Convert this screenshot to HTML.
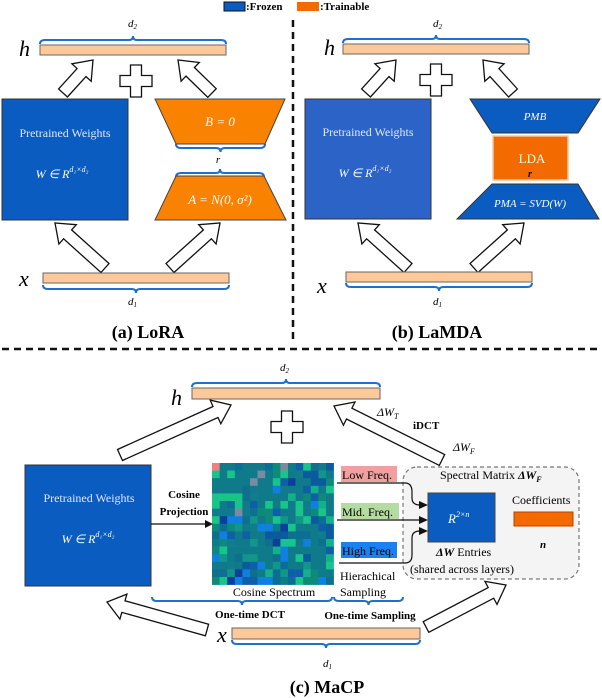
<!DOCTYPE html>
<html><head><meta charset="utf-8"><style>
html,body{margin:0;padding:0;background:#fff}
svg{display:block}
text{font-family:"Liberation Serif",serif}
.it{font-style:italic}
.b{font-weight:bold}
</style></head><body>
<svg id="s" width="602" height="698" viewBox="0 0 602 698" xmlns="http://www.w3.org/2000/svg">
<g id="grid"></g>
<g id="arr"></g>
<g id="br" fill="none" stroke="#1f6fd0" stroke-width="2"></g>
<!-- legend -->
<rect x="224" y="2" width="21" height="9" fill="#0b5cc0" stroke="#111" stroke-width="1"/>
<text x="246" y="10" font-size="11" class="b">:Frozen</text>
<rect x="297" y="2" width="22" height="9" fill="#f26a00"/>
<text x="320" y="10" font-size="11" class="b">:Trainable</text>
<!-- divider lines -->
<line x1="293" y1="20" x2="293" y2="340" stroke="#111" stroke-width="2.5" stroke-dasharray="7,5"/>
<line x1="2" y1="349" x2="600" y2="349" stroke="#111" stroke-width="2.5" stroke-dasharray="7,5"/>

<!-- LoRA -->
<text x="19" y="56" font-size="22" class="it">h</text>
<rect x="40" y="45" width="186" height="10" fill="#fdc99a" stroke="#666" stroke-width="1"/>
<text x="128" y="27" font-size="11" class="it">d<tspan font-size="7" dy="2">2</tspan></text>
<rect x="2" y="99" width="126" height="121" fill="#0b5cc0" stroke="#333" stroke-width="1"/>
<text x="65" y="137" font-size="12" fill="#dde8ff" text-anchor="middle">Pretrained Weights</text>
<text x="62" y="178" font-size="12" fill="#fff" text-anchor="middle" class="it">W ∈ R<tspan font-size="8" dy="-6">d₁×d₂</tspan></text>
<polygon points="155,99 285,99 265,144 176,144" fill="#f98200" stroke="#444" stroke-width="1"/>
<text x="220" y="126" font-size="13" fill="#fff" text-anchor="middle" class="it">B = 0</text>
<text x="218" y="163" font-size="11" text-anchor="middle" class="it">r</text>
<polygon points="176,176 264,176 286,220 155,220" fill="#f98200" stroke="#444" stroke-width="1"/>
<text x="220" y="204" font-size="13" fill="#fff" text-anchor="middle" class="it">A = N(0, σ²)</text>
<text x="19" y="286" font-size="22" class="it">x</text>
<rect x="43" y="273" width="186" height="10" fill="#fdc99a" stroke="#666" stroke-width="1"/>
<text x="128" y="305" font-size="11" class="it">d<tspan font-size="7" dy="2">1</tspan></text>
<text x="148" y="338" font-size="18" class="b" text-anchor="middle">(a) LoRA</text>

<!-- LaMDA -->
<text x="324" y="55" font-size="22" class="it">h</text>
<rect x="343" y="44" width="186" height="10" fill="#fdc99a" stroke="#666" stroke-width="1"/>
<text x="433" y="27" font-size="11" class="it">d<tspan font-size="7" dy="2">2</tspan></text>
<rect x="305" y="99" width="126" height="120" fill="#2b63c6" stroke="#333" stroke-width="1"/>
<text x="368" y="136" font-size="12" fill="#dde8ff" text-anchor="middle">Pretrained Weights</text>
<text x="365" y="177" font-size="12" fill="#fff" text-anchor="middle" class="it">W ∈ R<tspan font-size="8" dy="-6">d₁×d₂</tspan></text>
<polygon points="470,99 600,99 578,133 492,133" fill="#0b5cc0" stroke="#333" stroke-width="1"/>
<text x="535" y="120" font-size="11" fill="#fff" text-anchor="middle" class="it">PMB</text>
<rect x="493" y="136" width="75" height="44" fill="#f26a00" stroke="#f9c8a0" stroke-width="1.5"/>
<text x="532" y="163" font-size="13" fill="#ffe" text-anchor="middle">LDA</text>
<text x="530" y="177" font-size="10" class="it b" text-anchor="middle">r</text>
<polygon points="492,184 578,184 599,219 457,219" fill="#0b5cc0" stroke="#333" stroke-width="1"/>
<text x="530" y="207" font-size="11" fill="#fff" text-anchor="middle" class="it">PMA = SVD(W)</text>
<text x="317" y="293" font-size="22" class="it">x</text>
<rect x="346" y="272" width="186" height="10" fill="#fdc99a" stroke="#666" stroke-width="1"/>
<text x="433" y="305" font-size="11" class="it">d<tspan font-size="7" dy="2">1</tspan></text>
<text x="437" y="338" font-size="18" class="b" text-anchor="middle">(b) LaMDA</text>

<!-- MaCP -->
<text x="171" y="405" font-size="22" class="it">h</text>
<rect x="192" y="388" width="188" height="11" fill="#fdc99a" stroke="#666" stroke-width="1"/>
<text x="280" y="371" font-size="11" class="it">d<tspan font-size="7" dy="2">2</tspan></text>
<text x="377" y="416" font-size="12" class="it">ΔW<tspan font-size="8" dy="3">T</tspan></text>
<text x="413" y="429" font-size="11" class="b">iDCT</text>
<text x="453" y="451" font-size="12" class="it">ΔW<tspan font-size="8" dy="3">F</tspan></text>
<rect x="25" y="465" width="126" height="121" fill="#0b5cc0" stroke="#333" stroke-width="1"/>
<text x="89" y="502" font-size="12" fill="#dde8ff" text-anchor="middle">Pretrained Weights</text>
<text x="88" y="543" font-size="12" fill="#fff" text-anchor="middle" class="it">W ∈ R<tspan font-size="8" dy="-6">d₁×d₂</tspan></text>
<text x="184" y="498" font-size="11" class="b" text-anchor="middle">Cosine</text>
<text x="184" y="515" font-size="11" class="b" text-anchor="middle">Projection</text>
<line x1="151" y1="524" x2="207" y2="524" stroke="#111" stroke-width="1.2"/>
<polygon points="213,524 205,520 205,528" fill="#111"/>
<text x="274" y="596" font-size="12" text-anchor="middle">Cosine Spectrum</text>
<rect x="403" y="467" width="176" height="112" rx="14" fill="#f4f4f4" stroke="#777" stroke-width="1.2" stroke-dasharray="4,3"/>
<rect x="341" y="466" width="56" height="16" fill="#f0a0a0"/>
<text x="342" y="479" font-size="12">Low Freq.</text>
<rect x="341" y="503" width="58" height="16" fill="#b5dca0"/>
<text x="342" y="516" font-size="12">Mid. Freq.</text>
<rect x="341" y="542" width="56" height="16" fill="#1a82f0"/>
<text x="342" y="555" font-size="12">High Freq.</text>
<text x="340" y="580" font-size="12">Hierachical</text>
<text x="340" y="596" font-size="12">Sampling</text>
<path d="M337,483 H405 Q412,483 412,492 V498 Q412,505 420,505" fill="none" stroke="#111" stroke-width="1.2"/>
<line x1="337" y1="520" x2="420" y2="520" stroke="#111" stroke-width="1.2"/>
<path d="M339,563 H405 Q412,563 412,555 V538 Q412,531 420,531" fill="none" stroke="#111" stroke-width="1.2"/>
<polygon points="428,505 419,501 419,509" fill="#111"/>
<polygon points="428,520 419,516 419,524" fill="#111"/>
<polygon points="428,531 419,527 419,535" fill="#111"/>
<text x="440" y="479" font-size="12">Spectral Matrix <tspan class="it b">ΔW</tspan><tspan class="it b" font-size="8" dy="3">F</tspan></text>
<rect x="428" y="493" width="67" height="49" fill="#0b5cc0" stroke="#444" stroke-width="1"/>
<text x="448" y="523" font-size="13" fill="#fff" class="it">R<tspan font-size="8" dy="-6">2×n</tspan></text>
<text x="512" y="504" font-size="12">Coefficients</text>
<rect x="514" y="512" width="59" height="14" fill="#f26a00" stroke="#c04000" stroke-width="1"/>
<text x="540" y="548" font-size="11" class="it b">n</text>
<text x="436" y="556" font-size="12"><tspan class="it b">ΔW</tspan> Entries</text>
<text x="410" y="573" font-size="12">(shared across layers)</text>
<text x="250" y="618" font-size="11" class="b" text-anchor="middle">One-time DCT</text>
<text x="370" y="619" font-size="11" class="b" text-anchor="middle">One-time Sampling</text>
<text x="217" y="642" font-size="22" class="it">x</text>
<rect x="232" y="628" width="188" height="11" fill="#fdc99a" stroke="#666" stroke-width="1"/>
<text x="323" y="667" font-size="11" class="it">d<tspan font-size="7" dy="2">1</tspan></text>
<text x="327" y="693" font-size="18" class="b" text-anchor="middle">(c) MaCP</text>
</svg>
<script>
var NS="http://www.w3.org/2000/svg";
function el(g,t,a){var e=document.createElementNS(NS,t);for(var k in a)e.setAttribute(k,a[k]);document.getElementById(g).appendChild(e);return e;}
function arrow(x1,y1,x2,y2){var dx=x2-x1,dy=y2-y1,L=Math.hypot(dx,dy),ux=dx/L,uy=dy/L,px=-uy,py=ux,sw=6,hw=13,hl=17;
var bx=x2-ux*hl,by=y2-uy*hl;var p=[[x1+px*sw,y1+py*sw],[bx+px*sw,by+py*sw],[bx+px*hw,by+py*hw],[x2,y2],[bx-px*hw,by-py*hw],[bx-px*sw,by-py*sw],[x1-px*sw,y1-py*sw]];
el("arr","polygon",{points:p.map(function(q){return q[0].toFixed(1)+","+q[1].toFixed(1)}).join(" "),fill:"#fff",stroke:"#111","stroke-width":1.3});}
function plus(cx,cy,s,w){var a=s/2,b=w/2;var p=[[-b,-a],[b,-a],[b,-b],[a,-b],[a,b],[b,b],[b,a],[-b,a],[-b,b],[-a,b],[-a,-b],[-b,-b]];
el("arr","polygon",{points:p.map(function(q){return (cx+q[0])+","+(cy+q[1])}).join(" "),fill:"#fff",stroke:"#111","stroke-width":1.3});}
function brace(x1,x2,y,d){var m=(x1+x2)/2,h=4*d;el("br","path",{d:"M"+x1+","+(y+h)+" Q"+x1+","+y+" "+(x1+5)+","+y+" H"+(m-4)+" Q"+m+","+y+" "+m+","+(y-h)+" Q"+m+","+y+" "+(m+4)+","+y+" H"+(x2-5)+" Q"+x2+","+y+" "+x2+","+(y+h)});}
arrow(63,93,93,60);arrow(212,93,178,60);plus(136,81,32,11);
arrow(105,268,55,223);arrow(170,268,220,223);
brace(40,226,40,1);brace(43,229,289,-1);brace(176,265,148,-1);brace(176,264,173,1);
arrow(366,93,396,60);arrow(513,93,483,60);plus(436,80,32,11);
arrow(408,268,358,223);arrow(474,268,524,223);
brace(343,529,39,1);brace(346,532,287,-1);
arrow(120,455,231,405);arrow(442,460,334,406);plus(287,427,32,11);
arrow(207,630,107,602);arrow(426,627,506,585);
brace(192,380,383,1);brace(232,420,644,-1);brace(152,332,601,-1);brace(334,403,601,-1);brace(447,557,488,1);brace(514,573,530,-1);
var seed=7;function r(){seed=(seed*16807)%2147483647;return seed/2147483647;}
var pal=["#0e7a8a","#0e7a8a","#0e7a8a","#0e7a8a","#107c8c","#0b6e96","#12968a","#0f5fa8","#0a5aa0","#13b08a","#0e7a8a","#0d8a7a","#0e6f8e","#0c3f9a","#18c48a","#1080e0"];
var x0=212,y0=463,n=16,c=7.6;
for(var i=0;i<n;i++)for(var j=0;j<n;j++){var k=Math.floor(r()*pal.length);var col=pal[k];
if(i<4&&j<8&&r()<0.6)col="#0e7a8a";
if(i==0&&j==0)col="#f08080";if((i==1&&j==6)||(i==0&&j==9)||(i==6&&j==3)||(i==2&&j==5))col="#7a8aa0";
el("grid","rect",{x:(x0+j*c).toFixed(1),y:(y0+i*c).toFixed(1),width:c+0.3,height:c+0.3,fill:col});}
</script>
</body></html>
